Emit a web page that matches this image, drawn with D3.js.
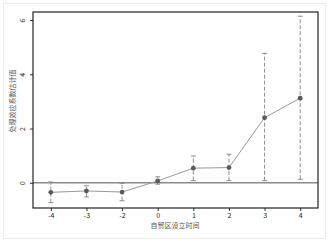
<!DOCTYPE html>
<html>
<head>
<meta charset="utf-8">
<script src="https://cdn.jsdelivr.net/npm/d3@7"></script>
<style>
  body { margin: 0; background: #fff; }
  svg { display: block; }
</style>
</head>
<body>
<div id="chart"></div>
<script>
// Event-study estimates (period -1 is the omitted base year)
const periods = ["-4", "-3", "-2", "0", "1", "2", "3", "4"];
const estimates = [-0.35, -0.30, -0.34, 0.07, 0.54, 0.56, 2.40, 3.12];
const ciLower = [-0.73, -0.52, -0.66, -0.05, 0.08, 0.08, 0.08, 0.13];
const ciUpper = [0.03, -0.11, -0.02, 0.22, 0.99, 1.05, 4.77, 6.14];
const yTicks = [0, 2, 4, 6];

const xTitle = "自贸区设立时间";
const yTitle = "处理效应系数估计值";

const width = 331, height = 243;
const margin = { top: 12, right: 13, bottom: 35, left: 33 };

const svg = d3.select("#chart").append("svg")
    .attr("width", width)
    .attr("height", height);

// faint outer frame
svg.append("rect")
    .attr("x", 3.5).attr("y", 3.5)
    .attr("width", 322).attr("height", 235)
    .attr("fill", "none")
    .attr("stroke", "#ececec");

const x = d3.scalePoint()
    .domain(periods)
    .range([margin.left, width - margin.right])
    .padding(0.5);

const y = d3.scaleLinear()
    .domain([0, 6])
    .range([182.8, 20]);

const font = "'Noto Sans CJK SC', 'DejaVu Sans', sans-serif";

// axes
const xAxis = svg.append("g")
    .attr("transform", `translate(0,${height - margin.bottom})`)
    .call(d3.axisBottom(x).tickSize(3).tickPadding(2));
xAxis.select(".domain").remove();
xAxis.selectAll("line").attr("stroke", "#333");
xAxis.selectAll("text").attr("font-size", 7).attr("font-family", font).attr("fill", "#222");

const yAxis = svg.append("g")
    .attr("transform", `translate(${margin.left},0)`)
    .call(d3.axisLeft(y).tickValues(yTicks).tickSize(3).tickFormat(d3.format("d")));
yAxis.select(".domain").remove();
yAxis.selectAll("line").attr("stroke", "#333");
yAxis.selectAll("text")
    .attr("font-size", 7).attr("font-family", font).attr("fill", "#222")
    .attr("x", null).attr("dy", null)
    .attr("text-anchor", "middle")
    .attr("transform", "translate(-8,0) rotate(-90)");

// zero reference line
svg.append("line")
    .attr("x1", margin.left).attr("x2", width - margin.right)
    .attr("y1", y(0)).attr("y2", y(0))
    .attr("stroke", "#8a8a8a")
    .attr("stroke-width", 1.6);

const rows = periods.map((p, i) => ({ p, est: estimates[i], lo: ciLower[i], hi: ciUpper[i] }));

// confidence intervals
const ci = svg.append("g").attr("stroke", "#8c8c8c").attr("stroke-width", 1);
ci.selectAll(".bar").data(rows).enter().append("line")
    .attr("x1", d => x(d.p)).attr("x2", d => x(d.p))
    .attr("y1", d => y(d.lo)).attr("y2", d => y(d.hi))
    .attr("stroke-dasharray", "4,2");
ci.selectAll(".capHi").data(rows).enter().append("line")
    .attr("x1", d => x(d.p) - 2.5).attr("x2", d => x(d.p) + 2.5)
    .attr("y1", d => y(d.hi)).attr("y2", d => y(d.hi));
ci.selectAll(".capLo").data(rows).enter().append("line")
    .attr("x1", d => x(d.p) - 2.5).attr("x2", d => x(d.p) + 2.5)
    .attr("y1", d => y(d.lo)).attr("y2", d => y(d.lo));

// estimate line and markers
svg.append("path")
    .datum(rows)
    .attr("fill", "none")
    .attr("stroke", "#999")
    .attr("stroke-width", 1)
    .attr("d", d3.line().x(d => x(d.p)).y(d => y(d.est)));

svg.selectAll(".pt").data(rows).enter().append("circle")
    .attr("cx", d => x(d.p)).attr("cy", d => y(d.est))
    .attr("r", 2.4)
    .attr("fill", "#5a5a5a");

// plot frame
svg.append("rect")
    .attr("x", margin.left).attr("y", margin.top)
    .attr("width", width - margin.left - margin.right)
    .attr("height", height - margin.top - margin.bottom)
    .attr("fill", "none")
    .attr("stroke", "#222")
    .attr("stroke-width", 1.2);

// titles
svg.append("text")
    .attr("x", 175)
    .attr("y", 228)
    .attr("text-anchor", "middle")
    .attr("font-size", 7).attr("font-family", font).attr("fill", "#555")
    .text(xTitle);

svg.append("text")
    .attr("transform", "translate(15,101) rotate(-90)")
    .attr("text-anchor", "middle")
    .attr("font-size", 7).attr("font-family", font).attr("fill", "#555")
    .text(yTitle);
</script>
</body>
</html>
